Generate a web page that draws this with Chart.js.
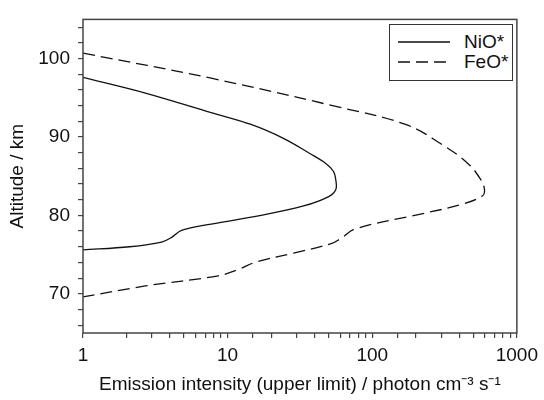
<!DOCTYPE html>
<html>
<head>
<meta charset="utf-8">
<script src="https://cdn.jsdelivr.net/npm/chart.js@4.4.1/dist/chart.umd.min.js"></script>
<style>
body { margin: 0; background: #fff; }
#wrap { position: relative; width: 544px; height: 400px; }
#legend {
    position: absolute; left: 389px; top: 24px; width: 122px; height: 55px;
    border: 1.5px solid #333; background: #fff;
    font: 19px "Liberation Sans", Arial, sans-serif; color: #111;
}
.row { position: absolute; left: 8px; height: 20px; display: flex; align-items: center; }
.row svg { width: 52px; height: 4px; margin-right: 14px; }
</style>
</head>
<body>
<div id="wrap">
    <canvas id="chart"></canvas>
    <div id="legend"></div>
</div>
<script>
// NiO* emission profile (intensity, altitude)
const nioX = [1, 2.7, 7.7, 14.5, 24.5, 37, 48, 54, 56, 56, 50, 33.5, 17, 7.7, 4.8, 4.1, 3.5, 2.1, 1]
const nioY = [97.6, 95.6, 93.1, 91.6, 89.8, 87.9, 86.6, 85.6, 84.5, 83.3, 82.4, 81.2, 80.0, 78.9, 78.1, 77.2, 76.6, 76.0, 75.6]

// FeO* emission profile
const feoX = [1, 7.7, 56, 170, 300, 460, 565, 597, 580, 413, 220, 77, 60, 52, 28.6, 16, 11.8, 8.6, 2.7, 1]
const feoY = [100.7, 97.5, 93.9, 91.6, 89.1, 86.6, 84.5, 83.3, 82.5, 81.4, 80.2, 78.3, 77.0, 76.4, 75.2, 74.1, 73.1, 72.3, 71.0, 69.6]

const seriesNames = ['NiO*', 'FeO*']
const xTicks = [1, 10, 100, 1000]
const yTicks = [70, 80, 90, 100]
const yMinor = [66, 68, 70, 72, 74, 76, 78, 80, 82, 84, 86, 88, 90, 92, 94, 96, 98, 100, 102, 104]

const font = { family: '"Liberation Sans", Arial, sans-serif', size: 19 }
const axisColor = '#444'

const toPoints = (xs, ys) => xs.map((x, i) => ({ x: x, y: ys[i] }))

// box round the plot area
const frame = {
    id: 'frame',
    afterDraw(chart) {
        const a = chart.chartArea
        const ctx = chart.ctx
        ctx.save()
        ctx.strokeStyle = axisColor
        ctx.lineWidth = 1.5
        ctx.strokeRect(a.left, a.top, a.right - a.left, a.bottom - a.top)
        ctx.restore()
    }
}

const ctx = document.getElementById('chart').getContext('2d')
const chart = new Chart(ctx, {
    type: 'scatter',
    data: {
        datasets: [{
            label: seriesNames[0],
            data: toPoints(nioX, nioY),
            showLine: true,
            borderColor: '#111',
            borderWidth: 1.3,
            pointRadius: 0,
            tension: 0.35
        }, {
            label: seriesNames[1],
            data: toPoints(feoX, feoY),
            showLine: true,
            borderColor: '#111',
            borderWidth: 1.3,
            borderDash: [12, 6],
            pointRadius: 0,
            tension: 0.4
        }]
    },
    options: {
        responsive: true,
        maintainAspectRatio: false,
        animation: false,
        layout: { padding: { top: 13, right: 21, left: 6, bottom: 0 } },
        plugins: { legend: { display: false }, tooltip: { enabled: false } },
        scales: {
            x: {
                type: 'logarithmic',
                min: 1, max: 1000,
                afterFit: s => { s.height = 67 },
                border: { display: false },
                grid: { drawOnChartArea: false, tickLength: 5, color: axisColor, lineWidth: 1.2 },
                ticks: {
                    autoSkip: false, maxRotation: 0, padding: 6, color: '#111', font: font,
                    callback: v => xTicks.includes(v) ? String(v) : ''
                },
                title: {
                    display: true, color: '#111', font: font, padding: { top: 4 },
                    text: 'Emission intensity (upper limit) / photon cm\u207B\u00B3 s\u207B\u00B9'
                }
            },
            y: {
                min: 65, max: 105,
                afterFit: s => { s.width = 77 },
                afterBuildTicks: s => { s.ticks = yMinor.map(v => ({ value: v })) },
                border: { display: false },
                grid: { drawOnChartArea: false, tickLength: 5, color: axisColor, lineWidth: 1.2 },
                ticks: {
                    autoSkip: false, padding: 8, color: '#111', font: font,
                    callback: v => yTicks.includes(v) ? String(v) : ''
                },
                title: { display: true, text: 'Altitude / km', color: '#111', font: font, padding: 0 }
            }
        }
    },
    plugins: [frame]
})

// legend box inside the plot
const legend = document.getElementById('legend')
chart.data.datasets.forEach((ds, i) => {
    const row = document.createElement('div')
    row.className = 'row'
    row.style.top = (7 + i * 20) + 'px'
    const dash = ds.borderDash ? 'stroke-dasharray="12 6"' : ''
    row.innerHTML = '<svg viewBox="0 0 52 4"><line x1="0" y1="2" x2="52" y2="2" stroke="#111" stroke-width="1.3" ' + dash + '/></svg>'
    const label = document.createElement('span')
    label.textContent = ds.label
    row.appendChild(label)
    legend.appendChild(row)
})
</script>
</body>
</html>
